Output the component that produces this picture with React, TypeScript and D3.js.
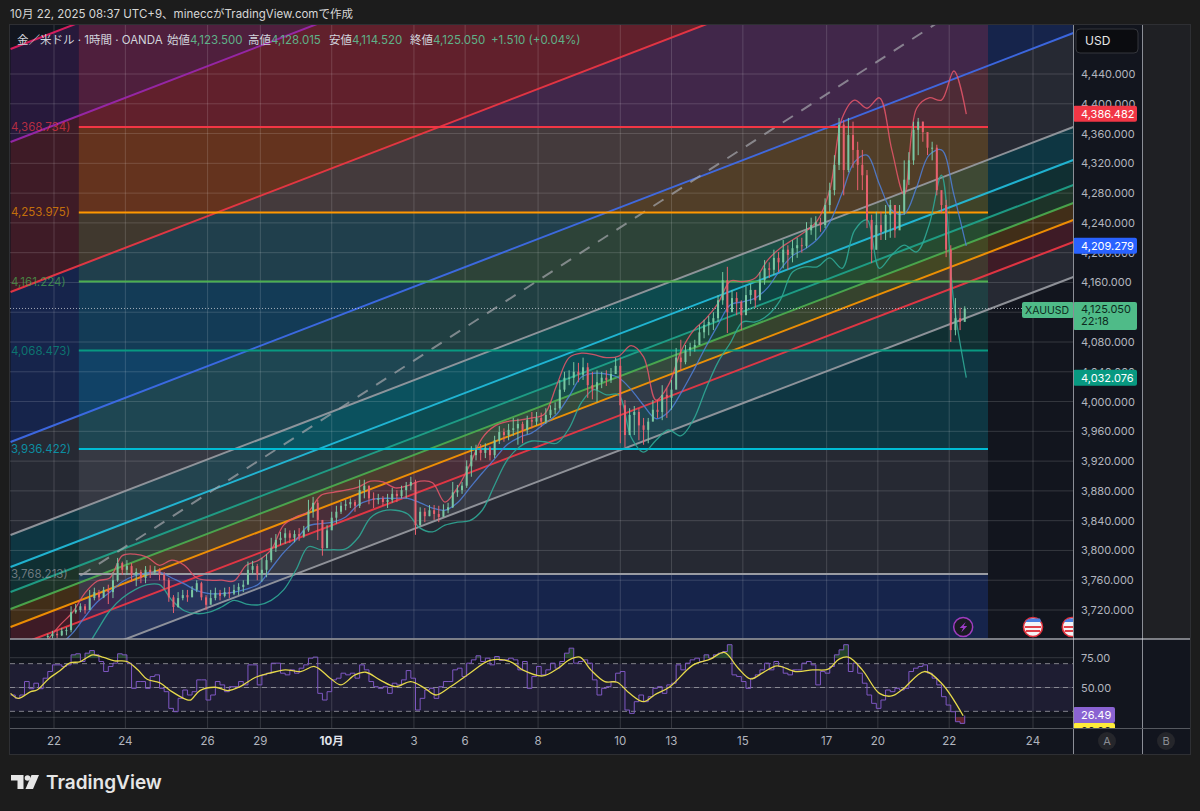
import * as d3 from "d3"

// price pane
const priceTicks = d3.range(3720, 4441, 40)
const dayTickBars = [0, 46, 99, 133, 179, 232, 265, 312, 365, 398, 444, 498, 531, 577, 631]
const dayTickLabels = ["22", "24", "26", "29", "10月", "3", "6", "8", "10", "13", "15", "17", "20", "22", "24"]

const fibLevels = [4368.734, 4253.975, 4161.224, 4068.473, 3936.422, 3768.213]
const fibLabels = ["4,368.734)", "4,253.975)", "4,161.224)", "4,068.473)", "3,936.422)", "3,768.213)"]
const fibColors = ["#f23645", "#ff9800", "#4caf50", "#089981", "#00bcd4", "#9a9ca3"]
const fibZoneColors = ["#f23645", "#ff9800", "#4caf50", "#089981", "#00bcd4", "#787b86", "#2962ff"]

// fib channel: price of each line at the left and right edge of the pane
const channelStart = [4473.6, 4348.7, 4147.2, 3945.7, 3820.7, 3777.7, 3744.2, 3721.3, 3697.1, 3668.9, 3621.9]
const channelEnd = [5023.0, 4898.1, 4696.6, 4495.1, 4368.8, 4324.5, 4290.9, 4266.7, 4243.9, 4214.3, 4167.3]
const channelColors = ["#e91e63", "#9c27b0", "#f23645", "#3f6ef0", "#9a9ca3", "#22c0e0", "#1fa58c", "#4caf50", "#ff9800", "#f23645", "#9a9ca3"]
const channelFills = ["#7b2fb0", "#f23645", "#2962ff", "#787b86", "#00bcd4", "#089981", "#4caf50", "#ff9800", "#f23645", "#787b86"]

const trendBars = [17, 600]
const trendPrices = [3766, 4550]

// candles, one per three hours
const candleClose = [
  3685, 3688, 3686, 3692, 3693, 3717, 3720, 3725, 3720, 3736,
  3744, 3737, 3747, 3744, 3760, 3783, 3774, 3779, 3767, 3771,
  3763, 3774, 3771, 3774, 3767, 3760, 3737, 3724, 3736, 3740,
  3737, 3747, 3756, 3737, 3727, 3736, 3743, 3739, 3744, 3742,
  3747, 3751, 3754, 3774, 3779, 3768, 3774, 3787, 3803, 3814,
  3817, 3823, 3817, 3822, 3819, 3827, 3852, 3864, 3841, 3803,
  3827, 3844, 3852, 3860, 3862, 3865, 3860, 3881, 3887, 3870,
  3868, 3870, 3865, 3868, 3876, 3873, 3881, 3887, 3892, 3834,
  3852, 3846, 3854, 3849, 3845, 3854, 3858, 3878, 3881, 3887,
  3913, 3928, 3935, 3931, 3938, 3928, 3948, 3959, 3955, 3962,
  3964, 3970, 3962, 3975, 3973, 3978, 3973, 3982, 3989, 3991,
  4016, 4032, 4032, 4040, 4036, 4046, 4022, 4016, 4026, 4032,
  4029, 4037, 4048, 3995, 3955, 3982, 3986, 3968, 3962, 3973,
  3989, 3986, 4009, 4005, 4016, 4059, 4053, 4069, 4073, 4076,
  4093, 4103, 4107, 4112, 4136, 4163, 4120, 4139, 4134, 4116,
  4143, 4150, 4136, 4163, 4179, 4177, 4193, 4187, 4204, 4197,
  4206, 4210, 4209, 4230, 4237, 4241, 4237, 4264, 4284, 4318,
  4372, 4311, 4358, 4338, 4318, 4304, 4244, 4204, 4237, 4228,
  4251, 4264, 4230, 4255, 4298, 4324, 4365, 4376, 4362, 4341,
  4341, 4284, 4264, 4204, 4096, 4112, 4107, 4125,
]
const candleHigh = [
  3688, 3692, 3693, 3696, 3697, 3725, 3728, 3729, 3728, 3747,
  3750, 3747, 3751, 3754, 3771, 3790, 3785, 3787, 3783, 3776,
  3774, 3779, 3780, 3779, 3776, 3771, 3763, 3740, 3744, 3747,
  3747, 3752, 3760, 3758, 3740, 3747, 3750, 3747, 3750, 3751,
  3754, 3756, 3760, 3785, 3786, 3782, 3790, 3795, 3817, 3822,
  3825, 3830, 3827, 3827, 3830, 3833, 3868, 3872, 3868, 3825,
  3834, 3852, 3860, 3865, 3868, 3870, 3868, 3895, 3895, 3887,
  3878, 3876, 3873, 3876, 3884, 3881, 3887, 3892, 3899, 3895,
  3858, 3857, 3861, 3861, 3860, 3862, 3864, 3892, 3888, 3892,
  3921, 3940, 3942, 3943, 3944, 3940, 3954, 3967, 3964, 3970,
  3978, 3977, 3973, 3981, 3986, 3986, 3985, 3991, 3995, 3999,
  4029, 4040, 4042, 4053, 4052, 4059, 4052, 4040, 4042, 4040,
  4042, 4045, 4059, 4059, 4002, 3991, 3994, 3991, 3978, 3978,
  4002, 4002, 4022, 4018, 4029, 4072, 4083, 4076, 4079, 4083,
  4103, 4110, 4115, 4120, 4143, 4174, 4181, 4150, 4147, 4136,
  4155, 4158, 4150, 4174, 4190, 4187, 4204, 4201, 4217, 4210,
  4217, 4220, 4220, 4241, 4247, 4249, 4247, 4273, 4294, 4331,
  4381, 4378, 4381, 4376, 4349, 4338, 4311, 4251, 4255, 4255,
  4264, 4271, 4264, 4264, 4324, 4335, 4376, 4381, 4376, 4358,
  4349, 4345, 4277, 4271, 4210, 4139, 4126, 4128,
]
const candleLow = [
  3680, 3682, 3682, 3685, 3686, 3690, 3715, 3717, 3715, 3720,
  3733, 3733, 3736, 3728, 3736, 3758, 3767, 3767, 3758, 3752,
  3756, 3756, 3763, 3767, 3760, 3747, 3731, 3716, 3723, 3733,
  3731, 3739, 3744, 3733, 3720, 3731, 3733, 3733, 3737, 3736,
  3740, 3740, 3744, 3756, 3768, 3760, 3758, 3764, 3784, 3798,
  3807, 3809, 3810, 3811, 3813, 3817, 3825, 3844, 3814, 3793,
  3807, 3830, 3836, 3849, 3854, 3857, 3852, 3857, 3870, 3862,
  3857, 3862, 3860, 3857, 3864, 3865, 3870, 3870, 3881, 3821,
  3833, 3838, 3846, 3841, 3838, 3846, 3850, 3857, 3872, 3876,
  3884, 3899, 3921, 3921, 3924, 3921, 3924, 3943, 3946, 3948,
  3954, 3942, 3944, 3956, 3964, 3968, 3966, 3970, 3978, 3983,
  3989, 4013, 4022, 4022, 4026, 4029, 4005, 4003, 3999, 4018,
  4021, 4025, 4037, 3944, 3939, 3962, 3955, 3948, 3942, 3944,
  3975, 3978, 3975, 3978, 3989, 4022, 4042, 4050, 4061, 4067,
  4076, 4085, 4089, 4096, 4107, 4130, 4092, 4123, 4116, 4096,
  4123, 4131, 4126, 4147, 4157, 4166, 4170, 4174, 4179, 4177,
  4187, 4193, 4200, 4206, 4224, 4217, 4228, 4233, 4255, 4277,
  4311, 4277, 4308, 4314, 4284, 4284, 4233, 4186, 4204, 4217,
  4217, 4220, 4220, 4237, 4251, 4291, 4318, 4331, 4349, 4331,
  4324, 4277, 4253, 4194, 4080, 4089, 4096, 4115,
]

// bollinger bands, one reading per eight hours
const bandUpper = [
  3680, 3700, 3717, 3743, 3759, 3763, 3793, 3795, 3791, 3780,
  3787, 3780, 3763, 3760, 3760, 3759, 3780, 3787, 3801, 3834,
  3845, 3852, 3874, 3878, 3881, 3885, 3893, 3892, 3884, 3887,
  3893, 3891, 3865, 3884, 3915, 3951, 3967, 3973, 3975, 3978,
  3983, 4022, 4059, 4065, 4063, 4059, 4061, 4075, 4060, 4002,
  4022, 4067, 4095, 4111, 4132, 4162, 4161, 4166, 4190, 4206,
  4217, 4228, 4243, 4284, 4381, 4405, 4394, 4408, 4338, 4278,
  4394, 4408, 4405, 4444, 4386,
]
const bandMiddle = [
  3653, 3673, 3689, 3711, 3731, 3744, 3758, 3766, 3770, 3771,
  3763, 3755, 3746, 3742, 3742, 3744, 3748, 3755, 3776, 3797,
  3814, 3833, 3836, 3838, 3845, 3861, 3868, 3870, 3870, 3870,
  3864, 3857, 3854, 3864, 3884, 3904, 3923, 3942, 3952, 3958,
  3970, 3983, 4007, 4033, 4038, 4037, 4032, 4016, 3995, 3977,
  3986, 4011, 4041, 4073, 4103, 4130, 4134, 4139, 4153, 4177,
  4196, 4205, 4218, 4241, 4280, 4322, 4331, 4292, 4257, 4252,
  4288, 4331, 4338, 4278, 4209,
]
const bandLower = [
  3613, 3626, 3646, 3666, 3693, 3719, 3736, 3747, 3754, 3754,
  3733, 3719, 3715, 3717, 3724, 3733, 3728, 3727, 3733, 3747,
  3774, 3805, 3801, 3801, 3802, 3817, 3844, 3853, 3854, 3849,
  3830, 3825, 3834, 3838, 3840, 3854, 3888, 3921, 3939, 3947,
  3946, 3944, 3964, 3999, 4016, 4009, 4009, 3952, 3932, 3948,
  3962, 3954, 3975, 4016, 4053, 4079, 4107, 4107, 4116, 4136,
  4174, 4181, 4181, 4193, 4179, 4230, 4244, 4179, 4197, 4210,
  4201, 4237, 4304, 4132, 4032,
]

// RSI pane, one reading per three hours
const rsiValues = [
  43.7, 40.9, 43.7, 55, 49, 53.6, 49, 57.8, 63.4, 69, 69, 67.6, 69, 77.4, 78.3, 71.8, 78.8, 81, 77.4, 71.8,
  63.4, 67.6, 70.4, 78.3, 77.4, 70.4, 49.3, 55, 55, 49.3, 59.2, 60.6, 49.3, 46.5, 32.5, 29.7, 40.9, 47.9, 43.7, 46.5,
  56.4, 56.4, 39.5, 43.7, 55, 52.2, 46.5, 50.7, 50.7, 55, 52.2, 69, 69, 52.2, 60.6, 62, 70.4, 70.4, 62, 60.6,
  64.8, 62, 66.2, 69, 74.6, 75.5, 45.1, 39.5, 46.5, 56.4, 57.8, 62, 60.6, 62, 57.8, 69, 64.8, 55, 50.7, 49.3,
  50.7, 45.1, 53.6, 52.2, 56.4, 64.2, 57.8, 31.1, 40.9, 47.9, 49.3, 40.9, 50.7, 55, 55, 64.8, 66.2, 59.2, 70.4, 73.2,
  76.6, 71.8, 74.6, 69, 76, 72.7, 73.2, 74.6, 73.2, 64.8, 71.8, 49.3, 59.2, 67.6, 60.6, 64.8, 70.4, 66.2, 71.8, 78.8,
  83, 70.4, 71.8, 73.2, 70.4, 56.4, 43.7, 49.3, 50.7, 55, 62, 63.4, 31.1, 28.3, 38.1, 43.7, 38.1, 42.3, 49.3, 50.7,
  45.1, 52.2, 53.6, 69, 64.8, 70.4, 73.2, 74.6, 71.8, 77.4, 74.6, 77.4, 78.8, 80.2, 85.9, 60.6, 59.2, 55, 49.3, 57.8,
  60.6, 64.8, 70.4, 64.8, 71.8, 67.6, 62, 60.6, 64.8, 64.8, 70.4, 71.8, 69, 52.2, 63.4, 62, 67.6, 77.4, 81.6, 85.9,
  63.4, 70.4, 62, 53.6, 43.7, 36.7, 32.5, 39.5, 47.9, 46.5, 49.3, 47.9, 49.3, 63.4, 66.2, 67.6, 69, 62, 57.8, 52.2,
  42.3, 35.3, 29.7, 21.3, 19.9, 26.49,
]
const rsiTicks = [75, 50, 25]
const rsiBandLevels = [70, 50, 30]

const rsiMaBars = [
  -28, -23, -15, -11, -3, 4, 10, 17, 25, 32, 39, 47, 54, 60, 68, 76, 85, 88, 94, 104, 112, 120, 130, 139,
  149, 159, 168, 178, 185, 194, 201, 210, 220, 230, 239, 246, 255, 268, 281, 294, 302, 315, 325, 332, 339, 346, 355, 363,
  371, 380, 387, 397, 412, 423, 432, 441, 449, 457, 466, 478, 489, 499, 506, 512, 521, 532, 540, 547, 561, 572, 586,
]
const rsiMaValues = [
  45.1, 40.9, 46.5, 47.9, 57.8, 64.2, 70.4, 71.8, 77.4, 75.2, 72.4, 71.8, 64.8, 56.9, 54.1, 46.5, 40, 39.5, 47.4, 50.2, 47.4, 50.7, 58.6, 62,
  64.8, 63.4, 67.6, 57.8, 52.2, 60.6, 62.8, 56.4, 50.7, 55, 49.3, 43.7, 50.2, 62, 72.7, 71.8, 64.8, 59.7, 66.2, 73.2, 75.5, 64.8, 55, 54.4,
  45.1, 38.1, 43.7, 50.7, 69, 73.8, 79.4, 66.2, 57.2, 62.5, 68.2, 63.4, 64.8, 65.4, 73.8, 75.5, 64.8, 45.1, 42.9, 48.5, 63.4, 53.6, 26.3,
]

const legendItems = [
  { label: "始値", value: "4,123.500" },
  { label: "高値", value: "4,128.015" },
  { label: "安値", value: "4,114.520" },
  { label: "終値", value: "4,125.050" },
]
const eventBars = [586]
const flagBars = [631, 656]

const W = 1200
const H = 811
const paneLeft = 10
const paneRight = 1073
const axisRight = 1142
const frameRight = 1191
const paneTop = 25
const paneBottom = 638.5
const rsiBottom = 728.5
const frameBottom = 755

const font = 'Inter, "Noto Sans CJK JP", sans-serif'
const axisText = "#b2b5be"
const grid = "rgba(255,255,255,0.15)"

const x = d3.scaleLinear().domain([0, 631]).range([54, 1033])
const y = d3.scaleLinear().domain([3720, 4440]).range([610, 74])
const rsiY = d3.scaleLinear().domain([25, 75]).range([717.3, 657.7])

const priceFmt = d3.format(",.3f")
const bandBar = (i: number) => -4 + 8 * i
const candleBar = (i: number) => -4 + 3 * i
const rsiBar = (i: number) => -28 + 3 * i

const bandLine = d3
  .line<number>()
  .x((_, i) => x(bandBar(i)))
  .y((d) => y(d))
  .curve(d3.curveCatmullRom.alpha(0.5))

const rsiLine = d3
  .line<number>()
  .x((_, i) => x(rsiBar(i)))
  .y((d) => rsiY(d))
  .curve(d3.curveStepAfter)

const rsiOverArea = d3
  .area<number>()
  .x((_, i) => x(rsiBar(i)))
  .y0(rsiY(75))
  .y1((d) => rsiY(Math.max(d, 75)))
  .curve(d3.curveStepAfter)

const rsiUnderArea = d3
  .area<number>()
  .x((_, i) => x(rsiBar(i)))
  .y0(rsiY(25))
  .y1((d) => rsiY(Math.min(d, 25)))
  .curve(d3.curveStepAfter)

const rsiMaLine = d3
  .line<number>()
  .x((_, i) => x(rsiMaBars[i]))
  .y((d) => rsiY(d))
  .curve(d3.curveCatmullRom.alpha(0.5))

const channelLeftBar = -28
const channelRightBar = 657

function PriceTag({ price, color, textColor = "#fff" }: { price: number; color: string; textColor?: string }) {
  const cy = y(price)
  return (
    <g>
      <rect x={paneRight} y={cy - 8} width={64} height={16} rx={2} fill={color} />
      <text x={1081} y={cy + 4} fontSize={11} fill={textColor} fontFamily={font}>
        {priceFmt(price)}
      </text>
    </g>
  )
}

function UsFlag({ bar }: { bar: number }) {
  const cx = x(bar)
  const cy = 627
  return (
    <g clipPath="url(#pane)">
      <circle cx={cx} cy={cy} r={9.5} fill="#f4f4f6" stroke="#e0303c" strokeWidth={1.6} />
      <path d={`M${cx - 8} ${cy - 1}h16v2h-16zM${cx - 7} ${cy + 3}h14v2h-14z`} fill="#e0404a" />
      <path d={`M${cx - 8} ${cy - 5}a8.5 8.5 0 0 1 6 -3.5h9a8.5 8.5 0 0 1 1 3.5z`} fill="#4a7fe0" />
    </g>
  )
}

export default function App() {
  const channelBands = channelFills.map((fill, i) => {
    const pts = [
      [x(channelLeftBar), y(channelStart[i])],
      [x(channelRightBar), y(channelEnd[i])],
      [x(channelRightBar), y(channelEnd[i + 1])],
      [x(channelLeftBar), y(channelStart[i + 1])],
    ]
    return { fill, d: "M" + pts.map((p) => p.join(",")).join("L") + "Z" }
  })

  const zoneEdges = [y.invert(paneTop), ...fibLevels, y.invert(paneBottom)]

  return (
    <svg
      width={W}
      height={H}
      viewBox={`0 0 ${W} ${H}`}
      style={{ position: "absolute", left: 0, top: 0, display: "block" }}
      fontFamily={font}
    >
      <defs>
        <clipPath id="pane">
          <rect x={paneLeft} y={paneTop} width={paneRight - paneLeft} height={paneBottom - paneTop} />
        </clipPath>
        <clipPath id="rsiPane">
          <rect x={paneLeft} y={paneBottom + 1} width={paneRight - paneLeft} height={rsiBottom - paneBottom - 1} />
        </clipPath>
        <clipPath id="tagClip">
          <rect x={paneRight} y={paneBottom} width={70} height={rsiBottom - paneBottom} />
        </clipPath>
      </defs>

      <rect width={W} height={H} fill="#1c1c1c" />
      <rect x={paneLeft} y={paneTop} width={frameRight - paneLeft} height={frameBottom - paneTop} fill="#12151e" />
      <rect x={axisRight} y={paneTop} width={frameRight - axisRight} height={paneBottom - paneTop} fill="#1f2024" />

      {/* Header */}
      <text x={10} y={18} fontSize={11.5} fill="#d6d6d6">
        10月 22, 2025 08:37 UTC+9、mineccがTradingView.comで作成
      </text>

      <g clipPath="url(#pane)">
        {/* Channel fills */}
        {channelBands.map((b, i) => (
          <path key={i} d={b.d} fill={b.fill} fillOpacity={0.2} />
        ))}

        {/* Fib zones */}
        {fibZoneColors.map((c, i) => (
          <rect
            key={i}
            x={x(16)}
            width={x(602) - x(16)}
            y={y(zoneEdges[i])}
            height={y(zoneEdges[i + 1]) - y(zoneEdges[i])}
            fill={c}
            fillOpacity={0.2}
          />
        ))}

        {/* Grid */}
        {priceTicks.map((t) => (
          <line key={t} x1={paneLeft} x2={paneRight} y1={y(t)} y2={y(t)} stroke={grid} />
        ))}
        {dayTickBars.map((b) => (
          <line key={b} x1={x(b)} x2={x(b)} y1={paneTop} y2={paneBottom} stroke={grid} />
        ))}

        {/* Channel lines */}
        {channelColors.map((c, i) => (
          <line
            key={i}
            x1={x(channelLeftBar)}
            x2={x(channelRightBar)}
            y1={y(channelStart[i])}
            y2={y(channelEnd[i])}
            stroke={c}
            strokeWidth={2}
            strokeOpacity={0.9}
          />
        ))}
        <line
          x1={x(trendBars[0])}
          x2={x(trendBars[1])}
          y1={y(trendPrices[0])}
          y2={y(trendPrices[1])}
          stroke="#a5a7ad"
          strokeOpacity={0.7}
          strokeWidth={2}
          strokeDasharray="12 10"
        />

        {/* Fib levels */}
        {fibLevels.map((p, i) => (
          <line key={p} x1={x(16)} x2={x(602)} y1={y(p)} y2={y(p)} stroke={fibColors[i]} strokeWidth={2} />
        ))}
        {fibLevels.map((p, i) => (
          <text key={p} x={11} y={y(p) + 4} fontSize={11.5} fill={fibColors[i]} fillOpacity={0.7}>
            {fibLabels[i]}
          </text>
        ))}

        {/* Bollinger bands */}
        <path d={bandLine(bandUpper) ?? ""} fill="none" stroke="#e8566a" strokeOpacity={0.85} strokeWidth={1.3} />
        <path d={bandLine(bandMiddle) ?? ""} fill="none" stroke="#4f7fd8" strokeOpacity={0.85} strokeWidth={1.3} />
        <path d={bandLine(bandLower) ?? ""} fill="none" stroke="#2fa795" strokeOpacity={0.9} strokeWidth={1.3} />

        {/* Last price */}
        <line x1={paneLeft} x2={1022} y1={y(4125.05)} y2={y(4125.05)} stroke="#c8ccd4" strokeOpacity={0.8} strokeDasharray="1 2" />

        {/* Candles */}
        {candleClose.map((c, i) => {
          const open = i === 0 ? c : candleClose[i - 1]
          const up = c >= open
          const color = up ? "#79c7a2" : "#e8606e"
          const cx = x(candleBar(i))
          return (
            <g key={i} fill={color}>
              <rect x={cx - 0.5} width={1} y={y(candleHigh[i])} height={y(candleLow[i]) - y(candleHigh[i])} />
              <rect
                x={cx - 1}
                width={2}
                y={y(Math.max(open, c))}
                height={Math.max(1, Math.abs(y(open) - y(c)))}
              />
            </g>
          )
        })}
      </g>

      {/* Event icons */}
      {eventBars.map((b) => (
        <g key={b}>
          <circle cx={x(b)} cy={627} r={9.5} fill="#191b22" stroke="#a03cc0" strokeWidth={1.5} />
          <path d={`M${x(b) + 2.5} ${622}l-6 6h3.5l-2 4.5l6 -6.5h-3.5z`} fill="#9c3cc8" />
        </g>
      ))}
      {flagBars.map((b) => (
        <UsFlag key={b} bar={b} />
      ))}

      {/* Legend */}
      <g fontSize={11.5}>
        <text x={17} y={44} fill="#d1d4dc">
          金／米ドル · 1時間 · OANDA
        </text>
        {legendItems.map((d, i) => (
          <g key={d.label}>
            <text x={167 + i * 81} y={44} fill="#d1d4dc">
              {d.label}
            </text>
            <text x={190 + i * 81} y={44} fill="#5fb088">
              {d.value}
            </text>
          </g>
        ))}
        <text x={491} y={44} fill="#5fb088">
          +1.510 (+0.04%)
        </text>
      </g>

      {/* RSI pane */}
      <g clipPath="url(#rsiPane)">
        <rect
          x={paneLeft}
          width={paneRight - paneLeft}
          y={rsiY(70)}
          height={rsiY(30) - rsiY(70)}
          fill="#7e57c2"
          fillOpacity={0.12}
        />
        {dayTickBars.map((b) => (
          <line key={b} x1={x(b)} x2={x(b)} y1={paneBottom} y2={rsiBottom} stroke={grid} />
        ))}
        {rsiTicks.map((t) => (
          <line key={t} x1={paneLeft} x2={paneRight} y1={rsiY(t)} y2={rsiY(t)} stroke={grid} />
        ))}
        {rsiBandLevels.map((t) => (
          <line
            key={t}
            x1={paneLeft}
            x2={paneRight}
            y1={rsiY(t)}
            y2={rsiY(t)}
            stroke="#9b9ba3"
            strokeOpacity={0.8}
            strokeDasharray="5 4"
          />
        ))}
        <path d={rsiOverArea(rsiValues) ?? ""} fill="#4caf50" fillOpacity={0.3} />
        <path d={rsiUnderArea(rsiValues) ?? ""} fill="#f23645" fillOpacity={0.35} />
        <path d={rsiLine(rsiValues) ?? ""} fill="none" stroke="#7e57c2" strokeWidth={1} />
        <path d={rsiMaLine(rsiMaValues) ?? ""} fill="none" stroke="#e6d94a" strokeWidth={1.3} />
      </g>

      {/* Time axis */}
      {dayTickBars.map((b, i) => (
        <text
          key={b}
          x={x(b)}
          y={745}
          fontSize={11.5}
          textAnchor="middle"
          fill={dayTickLabels[i] === "10月" ? "#e0e3eb" : axisText}
          fontWeight={dayTickLabels[i] === "10月" ? 700 : 400}
        >
          {dayTickLabels[i]}
        </text>
      ))}

      {/* Price axis, 4,120 sits fully behind the last price tag */}
      {priceTicks
        .filter((t) => t !== 4120)
        .map((t) => (
          <text key={t} x={1081} y={y(t) + 4} fontSize={11} fill={axisText}>
            {priceFmt(t)}
          </text>
        ))}
      <rect x={1076} y={29} width={62} height={24} rx={4} fill="#0b0c10" stroke="#34363c" />
      <text x={1085} y={45} fontSize={12} fill="#e8e8e8">
        USD
      </text>

      <PriceTag price={4386.482} color="#f23645" />
      <PriceTag price={4209.279} color="#2962ff" />
      <PriceTag price={4032.076} color="#089981" />

      <rect x={1022} y={302} width={52} height={16} rx={2} fill="#4fbb88" />
      <text x={1025} y={314} fontSize={10.5} fill="#0d2b20">
        XAUUSD
      </text>
      <rect x={paneRight} y={302} width={64} height={28} rx={2} fill="#4fbb88" />
      <text x={1081} y={313} fontSize={11} fill="#0d2b20">
        {priceFmt(4125.05)}
      </text>
      <text x={1081} y={325} fontSize={11} fill="#0d2b20">
        22:18
      </text>

      {/* RSI axis */}
      {rsiTicks.slice(0, 2).map((t) => (
        <text key={t} x={1081} y={rsiY(t) + 4} fontSize={11} fill={axisText}>
          {d3.format(".2f")(t)}
        </text>
      ))}
      <g clipPath="url(#tagClip)">
        <rect x={paneRight} y={723} width={42} height={16} rx={2} fill="#ffeb3b" />
        <text x={1081} y={735} fontSize={11} fill="#222">
          26.26
        </text>
      </g>
      <rect x={paneRight} y={707} width={42} height={16} rx={2} fill="#8a63d2" />
      <text x={1081} y={719} fontSize={11} fill="#fff">
        26.49
      </text>

      {/* Frame lines */}
      <line x1={paneRight + 0.5} x2={paneRight + 0.5} y1={paneTop} y2={frameBottom} stroke="#8b8e96" />
      <line x1={axisRight + 0.5} x2={axisRight + 0.5} y1={paneTop} y2={frameBottom} stroke="#8b8e96" />
      <line x1={paneLeft} x2={frameRight} y1={639} y2={639} stroke="#e4e6ec" strokeWidth={1.2} />
      <line x1={paneLeft} x2={frameRight} y1={rsiBottom} y2={rsiBottom} stroke="#55585f" />
      <rect
        x={paneLeft - 0.5}
        y={paneTop - 0.5}
        width={frameRight - paneLeft}
        height={frameBottom - paneTop}
        fill="none"
        stroke="#2e2f33"
      />

      {/* A / B buttons */}
      <circle cx={1107} cy={741} r={9} fill="#25262b" />
      <text x={1107} y={745} textAnchor="middle" fontSize={11} fill="#8a8d94">
        A
      </text>
      <circle cx={1166} cy={741} r={9} fill="#25262b" />
      <text x={1166} y={745} textAnchor="middle" fontSize={11} fill="#8a8d94">
        B
      </text>

      {/* Logo */}
      <g fill="#e6e6e6">
        <path d="M11 775H23.5V789H17.5V780.5H11Z" />
        <circle cx={27.5} cy={778} r={2.8} />
        <path d="M31.5 775H39L33 789H25.5Z" />
        <text x={46} y={788.5} fontSize={19} fontWeight={600}>
          TradingView
        </text>
      </g>
    </svg>
  )
}
